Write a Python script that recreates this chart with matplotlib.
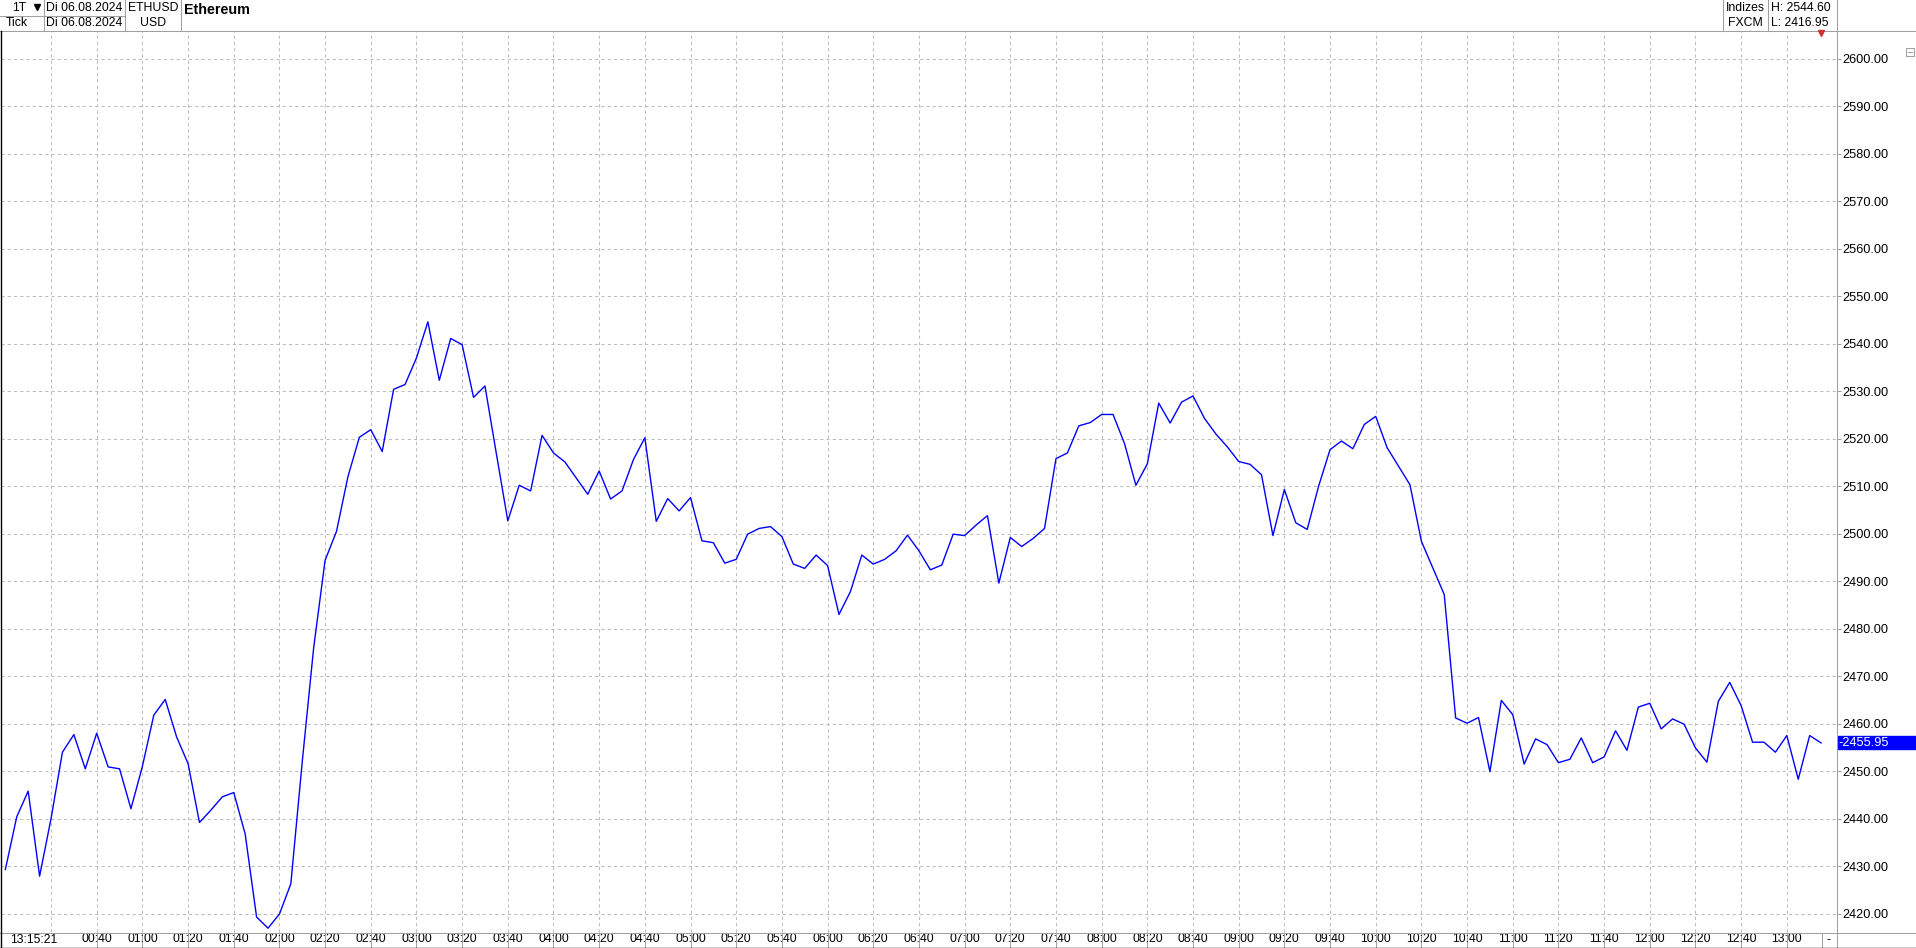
import matplotlib.pyplot as plt
import matplotlib.transforms as mtransforms
from matplotlib.patches import Rectangle
from matplotlib.ticker import FormatStrFormatter

plt.rcParams['font.family'] = ['Liberation Sans', 'DejaVu Sans']

# ETHUSD, 5-minute closes on 06.08.2024 (minutes after 00:00)
minutes = list(range(0, 800, 5))
prices = [
    2429.3, 2440.4, 2445.8, 2427.9, 2440.0, 2454.0, 2457.7, 2450.5, 2458.0, 2450.9,
    2450.5, 2442.1, 2451.0, 2461.8, 2465.1, 2457.2, 2451.6, 2439.2, 2441.8, 2444.6,
    2445.5, 2436.8, 2419.3, 2416.95, 2419.9, 2426.3, 2452.0, 2476.0, 2494.4, 2500.5,
    2512.0, 2520.3, 2521.9, 2517.3, 2530.4, 2531.4, 2537.0, 2544.6, 2532.3, 2541.1,
    2539.8, 2528.7, 2531.1, 2516.8, 2502.7, 2510.2, 2509.0, 2520.7, 2517.0, 2515.1,
    2511.7, 2508.3, 2513.2, 2507.3, 2509.0, 2515.6, 2520.2, 2502.6, 2507.4, 2504.8,
    2507.6, 2498.5, 2498.1, 2493.8, 2494.6, 2499.9, 2501.1, 2501.5, 2499.4, 2493.6,
    2492.7, 2495.5, 2493.3, 2483.0, 2487.8, 2495.5, 2493.6, 2494.6, 2496.4, 2499.7,
    2496.4, 2492.4, 2493.4, 2499.9, 2499.6, 2501.8, 2503.8, 2489.6, 2499.2, 2497.3,
    2499.0, 2501.1, 2515.8, 2517.0, 2522.7, 2523.4, 2525.1, 2525.1, 2519.0, 2510.2,
    2514.7, 2527.5, 2523.3, 2527.7, 2529.0, 2524.3, 2521.0, 2518.3, 2515.2, 2514.6,
    2512.4, 2499.6, 2509.3, 2502.3, 2500.9, 2510.0, 2517.7, 2519.5, 2517.9, 2523.0,
    2524.7, 2518.1, 2514.2, 2510.3, 2498.4, 2492.8, 2487.2, 2461.2, 2460.1, 2461.3,
    2449.9, 2464.9, 2461.9, 2451.5, 2456.8, 2455.6, 2451.8, 2452.5, 2457.0, 2451.8,
    2453.0, 2458.5, 2454.4, 2463.5, 2464.3, 2458.9, 2461.0, 2459.9, 2454.9, 2451.9,
    2464.7, 2468.7, 2463.8, 2456.1, 2456.1, 2454.0, 2457.5, 2448.3, 2457.5, 2455.95,
]

grid_minutes = list(range(20, 781, 20))
tick_minutes = list(range(40, 781, 20))
tick_labels = [
    "00:40", "01:00", "01:20", "01:40", "02:00", "02:20", "02:40", "03:00",
    "03:20", "03:40", "04:00", "04:20", "04:40", "05:00", "05:20", "05:40",
    "06:00", "06:20", "06:40", "07:00", "07:20", "07:40", "08:00", "08:20",
    "08:40", "09:00", "09:20", "09:40", "10:00", "10:20", "10:40", "11:00",
    "11:20", "11:40", "12:00", "12:20", "12:40", "13:00",
]
price_ticks = list(range(2420, 2601, 10))

W, H = 1916, 948
fig = plt.figure(figsize=(W / 100, H / 100), dpi=100)
fig.patch.set_facecolor('white')

# main price panel (pixel box 1..1837 x 30.5..932.3)
ax = fig.add_axes([1 / W, (H - 932.3) / H, 1836.3 / W, (932.3 - 30.5) / H])
ax.plot(minutes, prices, color='#0000FF', lw=1.0)
ax.set_xlim(-1.9, 802.1)
ax.set_ylim(2416.08, 2605.94)

for s in ax.spines.values():
    s.set_visible(False)

gcol = '#BDBDBD'
ax.set_yticks(price_ticks)
ax.yaxis.set_major_formatter(FormatStrFormatter('%.2f'))
ax.yaxis.tick_right()
ax.grid(axis='y', color=gcol, lw=0.75, linestyle=(0, (3, 3)))
for m in grid_minutes:
    ax.axvline(m, color=gcol, lw=0.75, linestyle=(0, (3, 3)), zorder=0)

ax.tick_params(axis='y', direction='out', length=3, width=0.7, color='#A0A0A0',
               pad=1, labelsize=9.2, labelcolor='black')
ax.set_xticks(tick_minutes, tick_labels)
ax.tick_params(axis='x', direction='out', length=11.3, width=0.7, color='#A0A0A0',
               pad=-10.8, labelsize=8.8, labelcolor='black')

# last price marker on the right scale
last = prices[-1]
tr = mtransforms.blended_transform_factory(fig.transFigure, ax.transData)
half = 6.5 / (902 / (2605.94 - 2416.08))
ax.add_patch(Rectangle((1837.8 / W, last - half), (W - 1837.8) / W, 2 * half,
                       transform=tr, color='#0000FF', clip_on=False, zorder=6))
ax.text(1838.5 / W, last, '-' + f'{last:.2f}', transform=tr, color='white',
        fontsize=9.2, va='center', ha='left', zorder=7, clip_on=False)

# overlay in pixel coordinates for header / frame
ov = fig.add_axes([0, 0, 1, 1])
ov.set_xlim(0, W)
ov.set_ylim(H, 0)
ov.axis('off')
ov.patch.set_alpha(0)

lc = '#A0A0A0'
lw = 0.75
for x in [44.5, 125.5, 181.5, 1723.5, 1768.5]:
    ov.plot([x, x], [0, 30.5], color=lc, lw=lw)
ov.plot([1837.5, 1837.5], [0, H], color=lc, lw=lw)
ov.plot([0, 125.5], [15.5, 15.5], color=lc, lw=lw)
ov.plot([0, W], [30.5, 30.5], color=lc, lw=lw)
ov.plot([0, W], [932.5, 932.5], color=lc, lw=lw)
ov.plot([1822.5, 1822.5], [932.5, H], color=lc, lw=lw)
ov.text(1829, 940, '-', ha='center', va='center', fontsize=8.8)
ov.plot([0.5, 0.5], [30.5, H], color='black', lw=1.0)
ov.plot([0, W], [947.5, 947.5], color='black', lw=1.0)

hs = 8.8
ov.text(19, 8, '1T', ha='center', va='center', fontsize=hs)
ov.plot([37.5], [7], marker='v', color='black', markersize=4)
ov.text(5.5, 23, 'Tick', ha='left', va='center', fontsize=hs)
ov.text(46.5, 8, 'Di 06.08.2024', ha='left', va='center', fontsize=hs)
ov.text(46.5, 23, 'Di 06.08.2024', ha='left', va='center', fontsize=hs)
ov.text(153, 8, 'ETHUSD', ha='center', va='center', fontsize=hs)
ov.text(153, 23, 'USD', ha='center', va='center', fontsize=hs)
ov.text(184, 9.5, 'Ethereum', ha='left', va='center', fontsize=10.3, fontweight='bold')
ov.text(1745.5, 8, 'Indizes', ha='center', va='center', fontsize=hs)
ov.text(1745.5, 23, 'FXCM', ha='center', va='center', fontsize=hs)
ov.text(1771, 8, 'H: ' + f'{max(prices):.2f}', ha='left', va='center', fontsize=hs)
ov.text(1771, 23, 'L: ' + f'{min(prices):.2f}', ha='left', va='center', fontsize=hs)
ov.plot([1821], [33], marker='v', color='#D03030', markersize=4.5)
ov.text(10, 940, '13:15:21', ha='left', va='center', fontsize=8.8)

ov.add_patch(Rectangle((1906, 48), 8, 8, fill=False, edgecolor='#A0A0A0', lw=0.75))
ov.plot([1908, 1912], [52, 52], color='#A0A0A0', lw=0.75)

fig.savefig('out.png', dpi=100, facecolor='white')
